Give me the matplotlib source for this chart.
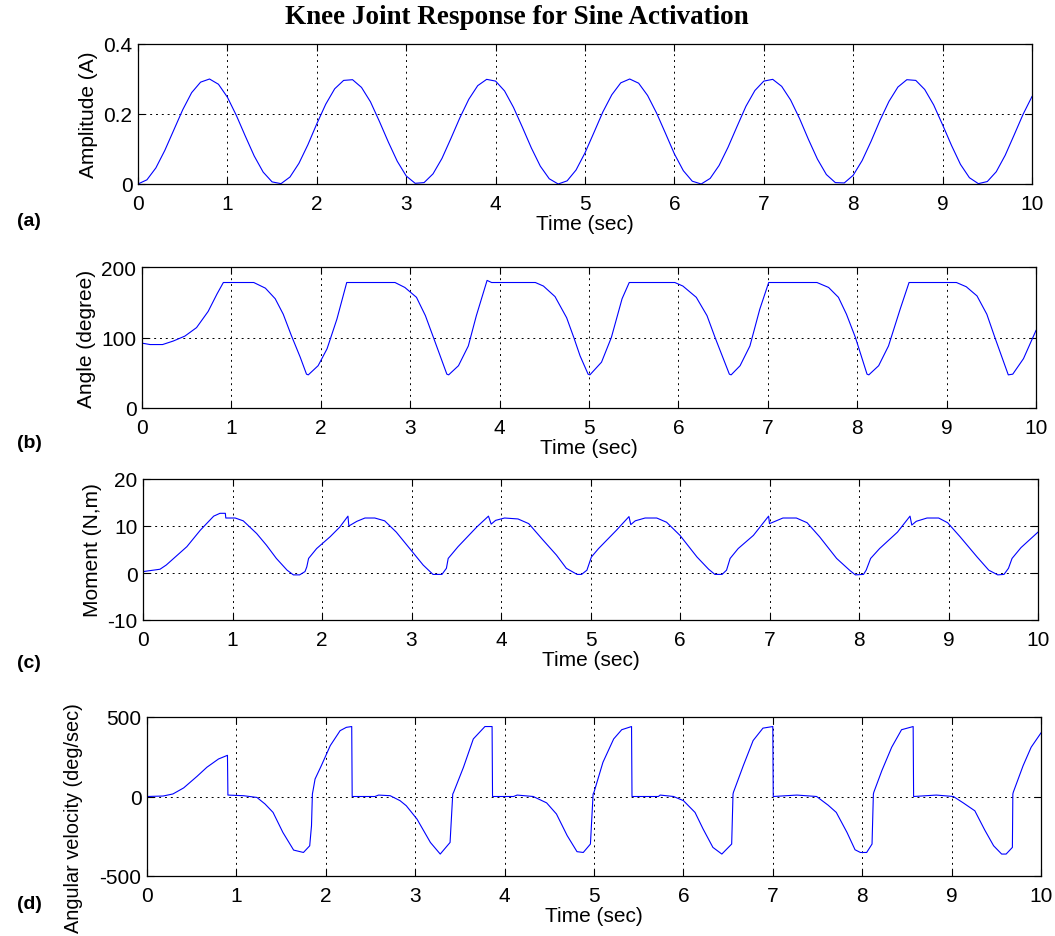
import matplotlib
import numpy as np

matplotlib.use("Agg")
import matplotlib.pyplot as plt

plt.rcParams["font.family"] = ["Liberation Sans", "DejaVu Sans"]

# (a) activation amplitude, sampled every 0.1 s
amp_t = np.arange(101) * 0.1
amp_y = [0.000, 0.012, 0.046, 0.096, 0.154, 0.212, 0.261, 0.291, 0.300, 0.285,
         0.248, 0.196, 0.137, 0.080, 0.034, 0.006, 0.001, 0.020, 0.059, 0.112,
         0.172, 0.228, 0.272, 0.296, 0.298, 0.276, 0.235, 0.179, 0.120, 0.065,
         0.023, 0.002, 0.004, 0.029, 0.073, 0.130, 0.189, 0.242, 0.281, 0.299,
         0.294, 0.266, 0.219, 0.162, 0.103, 0.051, 0.015, 0.000, 0.009, 0.040,
         0.089, 0.147, 0.206, 0.255, 0.289, 0.300, 0.288, 0.253, 0.203, 0.145,
         0.086, 0.038, 0.008, 0.000, 0.016, 0.053, 0.105, 0.164, 0.222, 0.267,
         0.294, 0.299, 0.279, 0.240, 0.187, 0.127, 0.071, 0.027, 0.004, 0.003,
         0.025, 0.067, 0.122, 0.182, 0.236, 0.277, 0.298, 0.296, 0.270, 0.226,
         0.169, 0.110, 0.056, 0.018, 0.001, 0.007, 0.035, 0.082, 0.140, 0.199,
         0.250]

# (b) knee angle
ang_t = [0.00, 0.09, 0.23, 0.35, 0.48, 0.61, 0.74, 0.84, 0.91, 1.25, 1.38, 1.49,
         1.58, 1.67, 1.77, 1.84, 1.86, 1.97, 2.07, 2.18, 2.29, 2.83, 2.94, 3.07,
         3.17, 3.26, 3.41, 3.43, 3.54, 3.65, 3.74, 3.86, 3.91, 4.40, 4.49, 4.62,
         4.75, 4.83, 4.90, 4.99, 5.01, 5.14, 5.25, 5.37, 5.45, 5.96, 6.05, 6.20,
         6.32, 6.41, 6.57, 6.59, 6.69, 6.80, 6.91, 7.01, 7.55, 7.68, 7.79, 7.88,
         7.98, 8.11, 8.13, 8.24, 8.35, 8.48, 8.58, 9.11, 9.22, 9.34, 9.45, 9.54,
         9.69, 9.74, 9.86, 10.00]
ang_y = [92, 90, 90, 95, 102, 114, 137, 162, 178, 178, 170, 155,
         133, 103, 72, 48, 47, 60, 84, 126, 178, 178, 171, 157,
         131, 100, 48, 47, 60, 88, 131, 181, 178, 178, 173, 158,
         128, 100, 74, 48, 47, 65, 100, 155, 178, 178, 173, 157,
         131, 100, 48, 47, 60, 88, 140, 178, 178, 171, 157, 133,
         100, 48, 47, 60, 88, 140, 178, 178, 172, 159, 133, 100,
         47, 48, 70, 110]

# (c) knee moment
mom_t = [0.00, 0.19, 0.26, 0.49, 0.64, 0.79, 0.86, 0.92, 0.925, 1.03, 1.12, 1.27,
         1.38, 1.49, 1.61, 1.68, 1.75, 1.81, 1.83, 1.85, 1.94, 2.09, 2.20, 2.29,
         2.30, 2.39, 2.48, 2.59, 2.70, 2.83, 2.98, 3.13, 3.24, 3.34, 3.39, 3.41,
         3.52, 3.73, 3.86, 3.89, 3.94, 4.04, 4.19, 4.31, 4.47, 4.62, 4.73, 4.85,
         4.90, 4.96, 5.01, 5.09, 5.29, 5.43, 5.45, 5.50, 5.61, 5.74, 5.85, 6.00,
         6.19, 6.32, 6.39, 6.47, 6.52, 6.56, 6.65, 6.82, 6.99, 7.00, 7.15, 7.30,
         7.42, 7.56, 7.75, 7.90, 7.96, 8.05, 8.08, 8.13, 8.23, 8.43, 8.57, 8.59,
         8.64, 8.76, 8.89, 8.99, 9.13, 9.32, 9.45, 9.55, 9.62, 9.67, 9.71, 9.81,
         10.00]
mom_y = [0.3, 0.8, 1.7, 5.6, 9.1, 12.1, 12.7, 12.7, 11.7, 11.7, 11.1, 8.4,
         5.9, 3.1, 0.6, -0.4, -0.4, 0.3, 1.3, 3.1, 5.2, 7.7, 9.8, 12.1,
         10.0, 11.0, 11.7, 11.7, 11.1, 8.7, 5.2, 1.7, -0.3, -0.3, 1.0, 3.1,
         5.6, 9.8, 12.1, 10.4, 11.2, 11.7, 11.5, 10.5, 7.0, 3.8, 1.0, -0.3,
         -0.3, 0.6, 3.4, 5.2, 9.1, 12.0, 10.3, 11.1, 11.7, 11.7, 10.8, 8.0,
         3.4, 0.8, -0.3, -0.3, 0.6, 3.1, 5.2, 8.0, 12.1, 10.5, 11.7, 11.7,
         10.7, 7.7, 3.1, 0.5, -0.4, -0.3, 0.6, 3.1, 5.2, 8.7, 12.1, 10.2,
         11.0, 11.7, 11.7, 10.7, 7.7, 3.4, 0.6, -0.4, -0.3, 1.0, 3.1, 5.4,
         8.7]

# (d) angular velocity
vel_t = [0.00, 0.18, 0.29, 0.41, 0.56, 0.67, 0.80, 0.90, 0.905, 1.08, 1.23, 1.32,
         1.41, 1.52, 1.64, 1.75, 1.82, 1.84, 1.85, 1.88, 1.95, 2.05, 2.16, 2.23,
         2.29, 2.295, 2.55, 2.59, 2.72, 2.83, 2.90, 3.02, 3.17, 3.28, 3.39, 3.42,
         3.43, 3.54, 3.65, 3.78, 3.86, 3.865, 4.10, 4.14, 4.32, 4.47, 4.58, 4.70,
         4.81, 4.88, 4.96, 4.99, 5.00, 5.10, 5.22, 5.31, 5.42, 5.425, 5.72, 5.74,
         5.89, 6.00, 6.13, 6.22, 6.33, 6.43, 6.54, 6.555, 6.56, 6.67, 6.78, 6.89,
         7.00, 7.005, 7.27, 7.49, 7.62, 7.71, 7.83, 7.92, 7.98, 8.05, 8.11, 8.125,
         8.13, 8.22, 8.33, 8.44, 8.57, 8.575, 8.83, 9.02, 9.13, 9.26, 9.37, 9.47,
         9.56, 9.61, 9.68, 9.685, 9.69, 9.80, 9.89, 10.00]
vel_y = [0, 3, 16, 54, 127, 184, 236, 259, 9, 5, -6, -47,
         -100, -226, -337, -352, -310, -184, 15, 110, 194, 320, 414, 435,
         440, 0, 0, 9, 5, -26, -58, -142, -289, -362, -289, 15,
         27, 184, 362, 440, 440, 0, 0, 9, 0, -40, -110, -246,
         -347, -352, -299, 15, 27, 215, 362, 420, 440, 0, 0, 9,
         0, -26, -100, -204, -320, -362, -299, 15, 27, 194, 352, 430,
         440, 0, 9, 0, -55, -100, -226, -335, -352, -352, -299, 15,
         27, 163, 310, 420, 440, 0, 9, 0, -40, -90, -210, -310,
         -362, -362, -320, 15, 27, 194, 310, 400]

W, H = 1055, 937
fig = plt.figure(figsize=(W / 100, H / 100), dpi=100)


def make_axes(left, top, right, bottom):
    return fig.add_axes([left / W, 1 - bottom / H, (right - left) / W, (bottom - top) / H])


panels = [
    (make_axes(138, 45, 1032, 185), amp_t, amp_y, (0, 0.4), [0, 0.2, 0.4], ["0", "0.2", "0.4"], "Amplitude (A)"),
    (make_axes(142, 268, 1036, 409), ang_t, ang_y, (0, 200), [0, 100, 200], ["0", "100", "200"], "Angle (degree)"),
    (make_axes(143, 480, 1038, 621), mom_t, mom_y, (-10, 20), [-10, 0, 10, 20], ["-10", "0", "10", "20"], "Moment (N,m)"),
    (make_axes(147, 718, 1041, 877), vel_t, vel_y, (-500, 500), [-500, 0, 500], ["-500", "0", "500"], "Angular velocity (deg/sec)"),
]

for ax, t, y, ylim, yt, ytl, ylab in panels:
    ax.plot(t, y, color=(0, 0, 1), linewidth=0.8)
    ax.set_xlim(0, 10)
    ax.set_ylim(*ylim)
    ax.set_xticks(range(11))
    ax.set_xticklabels([str(i) for i in range(11)])
    ax.set_yticks(yt)
    ax.set_yticklabels(ytl)
    ax.tick_params(direction="in", top=True, right=True, length=5, width=0.8,
                   labelsize=15, pad=4)
    ax.tick_params(axis="x", pad=7)
    ax.grid(True, color="black", linestyle=(0, (2, 4)), linewidth=0.7)
    for s in ax.spines.values():
        s.set_linewidth(0.9)
    ax.set_xlabel("Time (sec)", fontsize=15, labelpad=1)
    ax.set_ylabel(ylab, fontsize=15, labelpad=4)

# the long velocity label sits lower than the axes centre in the original
vel_ax = panels[3][0]
vel_ax.yaxis.label.set_fontsize(14.3)
vel_ax.yaxis.set_label_coords(-0.072, 0.37)

fig.text(517 / W, 1 - 17 / H, "Knee Joint Response for Sine Activation",
         family=["Liberation Serif", "DejaVu Serif"], fontweight="bold",
         fontsize=19.5, ha="center", va="center")

for lab, yy in [("(a)", 222), ("(b)", 444), ("(c)", 664), ("(d)", 905)]:
    fig.text(17 / W, 1 - yy / H, lab, fontsize=14, fontweight="bold",
             ha="left", va="center")

fig.savefig("out.png", dpi=100)
